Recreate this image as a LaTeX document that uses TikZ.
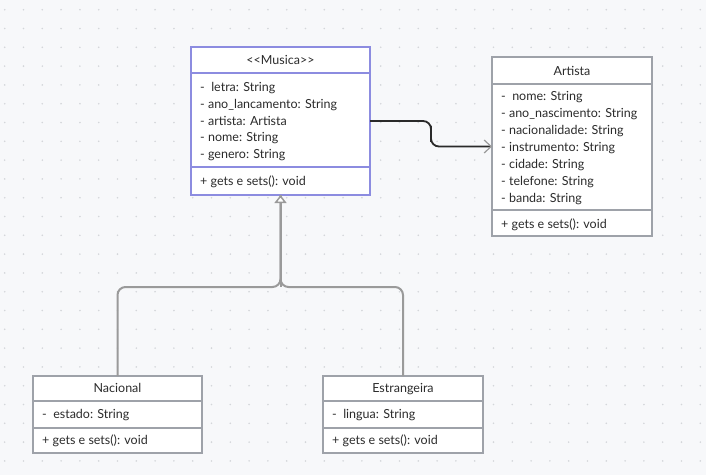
\documentclass[tikz,border=0pt]{standalone}
\usepackage{fontspec}
\setmainfont{Lato}[Ligatures=TeXOff]
\usetikzlibrary{arrows.meta,calc}
\definecolor{bgc}{HTML}{F7F8FA}
\definecolor{dotc}{HTML}{D4D6DA}
\definecolor{boxc}{HTML}{9EA2A9}
\definecolor{selc}{HTML}{8C8CE0}
\definecolor{textc}{HTML}{2B2B2B}
\definecolor{inhc}{HTML}{9A9A9A}
\definecolor{assc}{HTML}{2A2A2A}
\begin{document}
\begin{tikzpicture}[x=1pt,y=-1pt,
  classbox/.style={draw=boxc, fill=white, line width=1.2pt, rectangle, inner sep=0pt, outer sep=0pt, anchor=north west},
  divline/.style={draw=boxc, line width=1.2pt},
  txt/.style={font=\fontsize{12.5}{15}\selectfont, text=textc, inner sep=0pt},
  assoc/.style={draw=assc, line width=1.8pt, rounded corners=8pt, -{Straight Barb[length=7pt,width=13pt,line width=1.2pt,color=inhc]}},
  inh/.style={draw=inhc, line width=2pt, rounded corners=8pt},
  inharrow/.style={draw=inhc, line width=2pt, -{Triangle[open,length=8pt,width=12pt,fill=white,line width=1.5pt]}}
]
\fill[bgc] (0,0) rectangle (706,475);
\useasboundingbox (0,0) rectangle (706,475);
\foreach \i in {0,...,37}{
  \foreach \j in {0,...,25}{
    \fill[dotc] (4.7+18.8*\i, 9.7+18.8*\j) circle (0.9);
  }
}

% Musica
\node[classbox, draw=selc, minimum width=179pt, minimum height=148pt] (musica) at (191,47) {};
\draw[divline, draw=selc] (191,73) -- (370,73);
\draw[divline, draw=selc] (191,167) -- (370,167);
\node[txt, anchor=base] (musicaH) at (280.5,64.5) {<<Musica>>};
\foreach \t [count=\i from 0] in {-\ \ letra: String, - ano\_lancamento: String, - artista: Artista, - nome: String, - genero: String}{
  \node[txt, anchor=base west] (musicaA\i) at (200, 91.5+16.75*\i) {\t};
}
\node[txt, anchor=base west] (musicaM) at (200,185.5) {+ gets e sets(): void};

% Artista
\node[classbox, minimum width=160pt, minimum height=179pt] (artista) at (492,57) {};
\draw[divline] (492,84) -- (652,84);
\draw[divline] (492,210) -- (652,210);
\node[txt, anchor=base] (artistaH) at (572,75.5) {Artista};
\foreach \t [count=\i from 0] in {-\ \ nome: String, - ano\_nascimento: String, - nacionalidade: String, - instrumento: String, - cidade: String, - telefone: String, - banda: String}{
  \node[txt, anchor=base west] (artistaA\i) at (501, 100.5+17*\i) {\t};
}
\node[txt, anchor=base west] (artistaM) at (501,228.5) {+ gets e sets(): void};

% Nacional
\node[classbox, minimum width=169pt, minimum height=77pt] (nacional) at (33,376) {};
\draw[divline] (33,401) -- (202,401);
\draw[divline] (33,428) -- (202,428);
\node[txt, anchor=base] (nacionalH) at (117.5,392.5) {Nacional};
\node[txt, anchor=base west] (nacionalA) at (42,418.5) {-\ \ estado: String};
\node[txt, anchor=base west] (nacionalM) at (42,444.5) {+ gets e sets(): void};

% Estrangeira
\node[classbox, minimum width=160pt, minimum height=77pt] (estrangeira) at (323,376) {};
\draw[divline] (323,401) -- (483,401);
\draw[divline] (323,428) -- (483,428);
\node[txt, anchor=base] (estrangeiraH) at (403,392.5) {Estrangeira};
\node[txt, anchor=base west] (estrangeiraA) at (332,418.5) {-\ \ lingua: String};
\node[txt, anchor=base west] (estrangeiraM) at (332,444.5) {+ gets e sets(): void};

% association
\coordinate (amid) at ($(musica.east)!.5!(artista.west)$);
\draw[assoc] (musica.east) -| (amid) |- (artista.west);

% inheritance
\coordinate (junc) at ($(musica.south)+(0,92)$);
\draw[inh] (nacional.north) |- (junc) -- (musica.south);
\draw[inh] (estrangeira.north) |- (junc) -- (musica.south);
\draw[inharrow] (junc) -- (musica.south);
\end{tikzpicture}
\end{document}
